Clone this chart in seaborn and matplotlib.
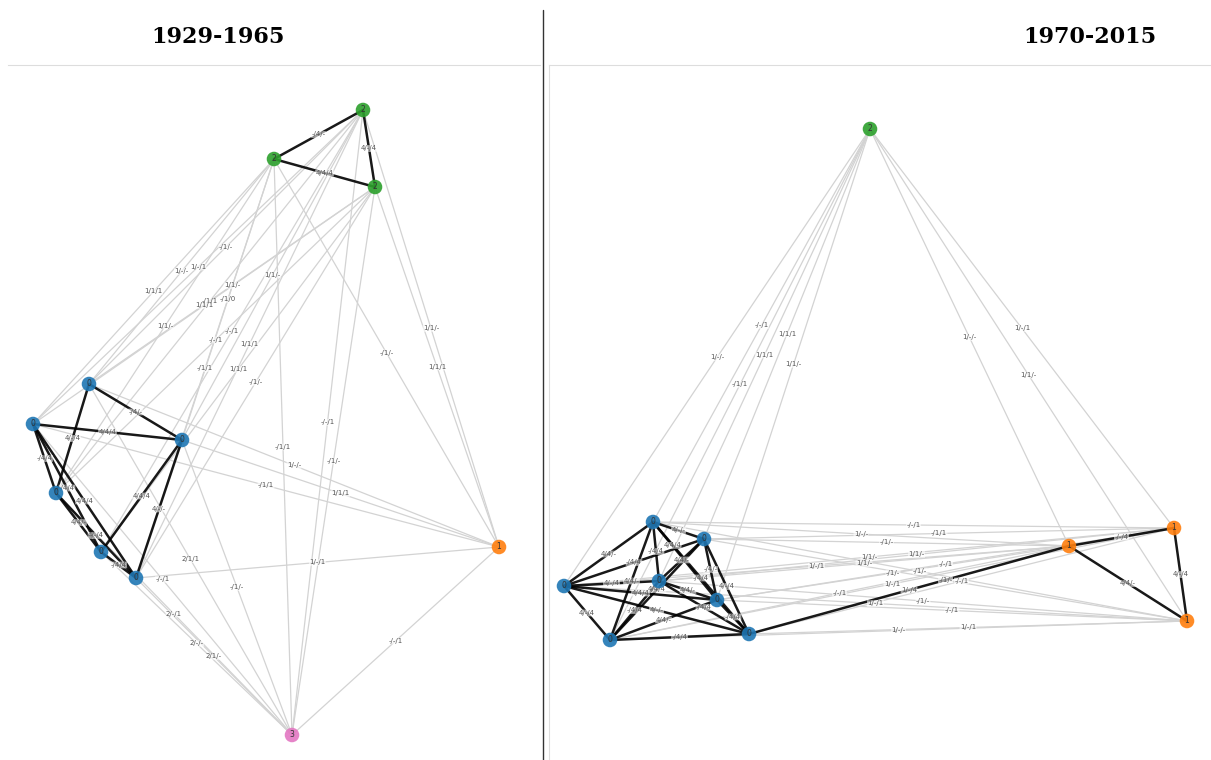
"""
Two co-membership networks side by side: 1929-1965 and 1970-2015.
Nodes coloured by cluster, strong ties black, weak ties light grey.
"""

import matplotlib
matplotlib.use('Agg')
import matplotlib.pyplot as plt
import seaborn as sns
import pandas as pd

sns.set_style('white')

# ---- 1929-1965 ---------------------------------------------------------
LEFT_TITLE = '1929-1965'
LEFT_NODE_X = [363, 274, 375, 89, 33, 182, 56, 101, 136, 499, 292]
LEFT_NODE_Y = [110, 159, 187, 384, 424, 440, 493, 552, 578, 547, 735]
LEFT_NODE_GROUP = [2, 2, 2, 0, 0, 0, 0, 0, 0, 1, 3]

LEFT_EDGE_SRC = [0, 0, 1,
                 3, 3, 4, 4, 4, 4, 5, 5, 6, 6, 7,
                 0, 0, 0, 0, 0, 0,
                 1, 1, 1, 1, 1,
                 2, 2, 2, 2, 2,
                 9, 9, 9, 9, 9, 9, 9,
                 10, 10, 10, 10, 10, 10, 10, 10, 10, 10]
LEFT_EDGE_DST = [1, 2, 2,
                 5, 6, 5, 6, 7, 8, 7, 8, 7, 8, 8,
                 3, 4, 5, 6, 7, 8,
                 3, 4, 5, 6, 8,
                 3, 4, 6, 7, 8,
                 0, 1, 2, 3, 4, 5, 8,
                 0, 1, 2, 3, 4, 5, 6, 7, 8, 9]
LEFT_EDGE_LABEL = ['-/4/-', '4/-/4', '4/4/4',
                   '-/4/-', '4/-/4', '4/4/4', '-/4/4', '-/4/4', '4/4/4',
                   '4/4/4', '4/-/-', '4/4/-', '4/-/4', '-/4/4',
                   '-/1/-', '1/-/1', '1/1/-', '-/1/1', '-/-/1', '1/1/1',
                   '1/-/-', '1/1/1', '-/1/0', '1/1/-', '-/1/1',
                   '1/1/-', '1/1/1', '-/-/1', '1/1/1', '-/1/-',
                   '1/1/-', '-/1/-', '1/1/1', '1/-/-', '-/1/1', '1/1/1', '1/-/1',
                   '-/-/1', '-/1/1', '-/1/-', '2/1/1', '-/-/1', '-/1/-',
                   '2/-/1', '2/-/-', '2/1/-', '-/-/1']

# ---- 1970-2015 ---------------------------------------------------------
RIGHT_TITLE = '1970-2015'
RIGHT_NODE_X = [870, 653, 704, 564, 659, 717, 610, 749, 1069, 1174, 1187]
RIGHT_NODE_Y = [129, 522, 539, 586, 581, 600, 640, 634, 546, 528, 621]
RIGHT_NODE_GROUP = [2, 0, 0, 0, 0, 0, 0, 0, 1, 1, 1]

RIGHT_EDGE_SRC = [0, 0, 0, 0, 0, 0, 0, 0, 0,
                  1, 1, 1, 1, 1, 1, 2, 2, 2, 2, 2,
                  3, 3, 3, 3, 4, 4, 4, 5, 5, 6,
                  1, 1, 1, 2, 2, 2, 3, 3, 3, 4, 4, 4,
                  5, 5, 5, 6, 6, 6, 7, 7, 7,
                  8, 8, 9]
RIGHT_EDGE_DST = [3, 6, 1, 4, 2, 5, 8, 9, 10,
                  2, 3, 4, 5, 6, 7, 3, 4, 5, 6, 7,
                  4, 5, 6, 7, 5, 6, 7, 6, 7, 7,
                  8, 9, 10, 8, 9, 10, 8, 9, 10, 8, 9, 10,
                  8, 9, 10, 8, 9, 10, 8, 9, 10,
                  9, 10, 10]
RIGHT_EDGE_LABEL = ['1/-/-', '-/1/1', '-/-/1', '1/1/1', '1/1/1', '1/1/-',
                    '1/-/-', '1/-/1', '1/1/-',
                    '4/-/-', '4/4/-', '-/4/4', '4/4/4', '4/4/-', '-/4/4',
                    '-/4/4', '4/4/-', '-/4/-', '4/4/4', '4/-/4',
                    '4/-/4', '4/4/4', '4/-/4', '4/-/-',
                    '4/4/-', '-/4/4', '-/4/4', '4/4/-', '-/4/4', '-/4/4',
                    '1/-/-', '-/-/1', '-/1/-', '-/1/-', '-/1/1', '-/1/-',
                    '1/-/1', '1/1/-', '1/-/1', '1/1/-', '1/1/-', '-/1/-',
                    '-/1/-', '-/-/1', '-/-/1', '-/-/1', '1/-/1', '1/-/-',
                    '1/-/4', '-/-/1', '1/-/1',
                    '-/-/4', '4/4/-', '4/-/4']

GROUP_COLORS = {0: '#1f77b4', 1: '#ff7f0e', 2: '#2ca02c', 3: '#e377c2'}

plt.rcParams.update({'font.size': 8})
fig = plt.figure(figsize=(12.11, 7.6), dpi=100)

W, H = 1211, 760


def draw_network(ax, xs, ys, groups, src, dst, labels, xlim, label_pos=None):
    """Draw nodes, ties and tie labels; label_pos maps (src, dst) -> fraction along edge."""
    label_pos = label_pos or {}
    nodes = pd.DataFrame({'x': xs, 'y': ys, 'group': groups})
    edges = pd.DataFrame({'src': src, 'dst': dst, 'label': labels})

    # weak ties first, strong ties (containing a "4") on top
    edges['strong'] = edges['label'].str.contains('4')
    for _, e in edges.sort_values('strong').iterrows():
        x0, y0 = nodes.loc[e.src, ['x', 'y']]
        x1, y1 = nodes.loc[e.dst, ['x', 'y']]
        if e.strong:
            ax.plot([x0, x1], [y0, y1], color='black', lw=1.8, alpha=0.9,
                    zorder=2, solid_capstyle='round')
        else:
            ax.plot([x0, x1], [y0, y1], color='#d3d3d3', lw=0.9, zorder=1)

    # edge labels, at the midpoint unless told otherwise
    for _, e in edges.iterrows():
        t = label_pos.get((e.src, e.dst), 0.5)
        xm = nodes.loc[e.src, 'x'] * (1 - t) + nodes.loc[e.dst, 'x'] * t
        ym = nodes.loc[e.src, 'y'] * (1 - t) + nodes.loc[e.dst, 'y'] * t
        ax.text(xm, ym, e.label, fontsize=5, color='#555555',
                ha='center', va='center', zorder=3,
                bbox=dict(boxstyle='round,pad=0.05', fc='white', ec='none', alpha=0.6))

    sns.scatterplot(data=nodes, x='x', y='y', hue='group', palette=GROUP_COLORS,
                    s=110, alpha=0.9, edgecolor='none', legend=False, ax=ax, zorder=4)
    for _, n in nodes.iterrows():
        ax.text(n.x, n.y, str(int(n.group)), fontsize=5.5, color='#333333',
                ha='center', va='center', zorder=5)

    ax.set_xlim(*xlim)
    ax.set_ylim(760, 65)
    ax.set_xticks([])
    ax.set_yticks([])
    ax.set_xlabel('')
    ax.set_ylabel('')
    for side in ax.spines:
        ax.spines[side].set_color('#dddddd')
        ax.spines[side].set_linewidth(0.8)


ax_left = fig.add_axes([8 / W, 0, 532 / W, 695 / H])
draw_network(ax_left, LEFT_NODE_X, LEFT_NODE_Y, LEFT_NODE_GROUP,
             LEFT_EDGE_SRC, LEFT_EDGE_DST, LEFT_EDGE_LABEL, (8, 540))
for side in ['left', 'right', 'bottom']:
    ax_left.spines[side].set_visible(False)

ax_right = fig.add_axes([549 / W, 0, 662 / W, 695 / H])
draw_network(ax_right, RIGHT_NODE_X, RIGHT_NODE_Y, RIGHT_NODE_GROUP,
             RIGHT_EDGE_SRC, RIGHT_EDGE_DST, RIGHT_EDGE_LABEL, (549, 1211),
             label_pos={(1, 5): 0.3})
for side in ['right', 'bottom']:
    ax_right.spines[side].set_visible(False)

# separator between the two periods
fig.add_artist(plt.Line2D([543 / W, 543 / W], [0, 1 - 10 / H],
                          color='#333333', lw=1.0, transform=fig.transFigure))

fig.text(218 / W, 1 - 37 / H, LEFT_TITLE, ha='center', va='center',
         fontsize=16, fontweight='bold', family='DejaVu Serif', color='black')
fig.text(1090 / W, 1 - 37 / H, RIGHT_TITLE, ha='center', va='center',
         fontsize=16, fontweight='bold', family='DejaVu Serif', color='black')

fig.savefig('out.png', dpi=100)
plt.close(fig)
